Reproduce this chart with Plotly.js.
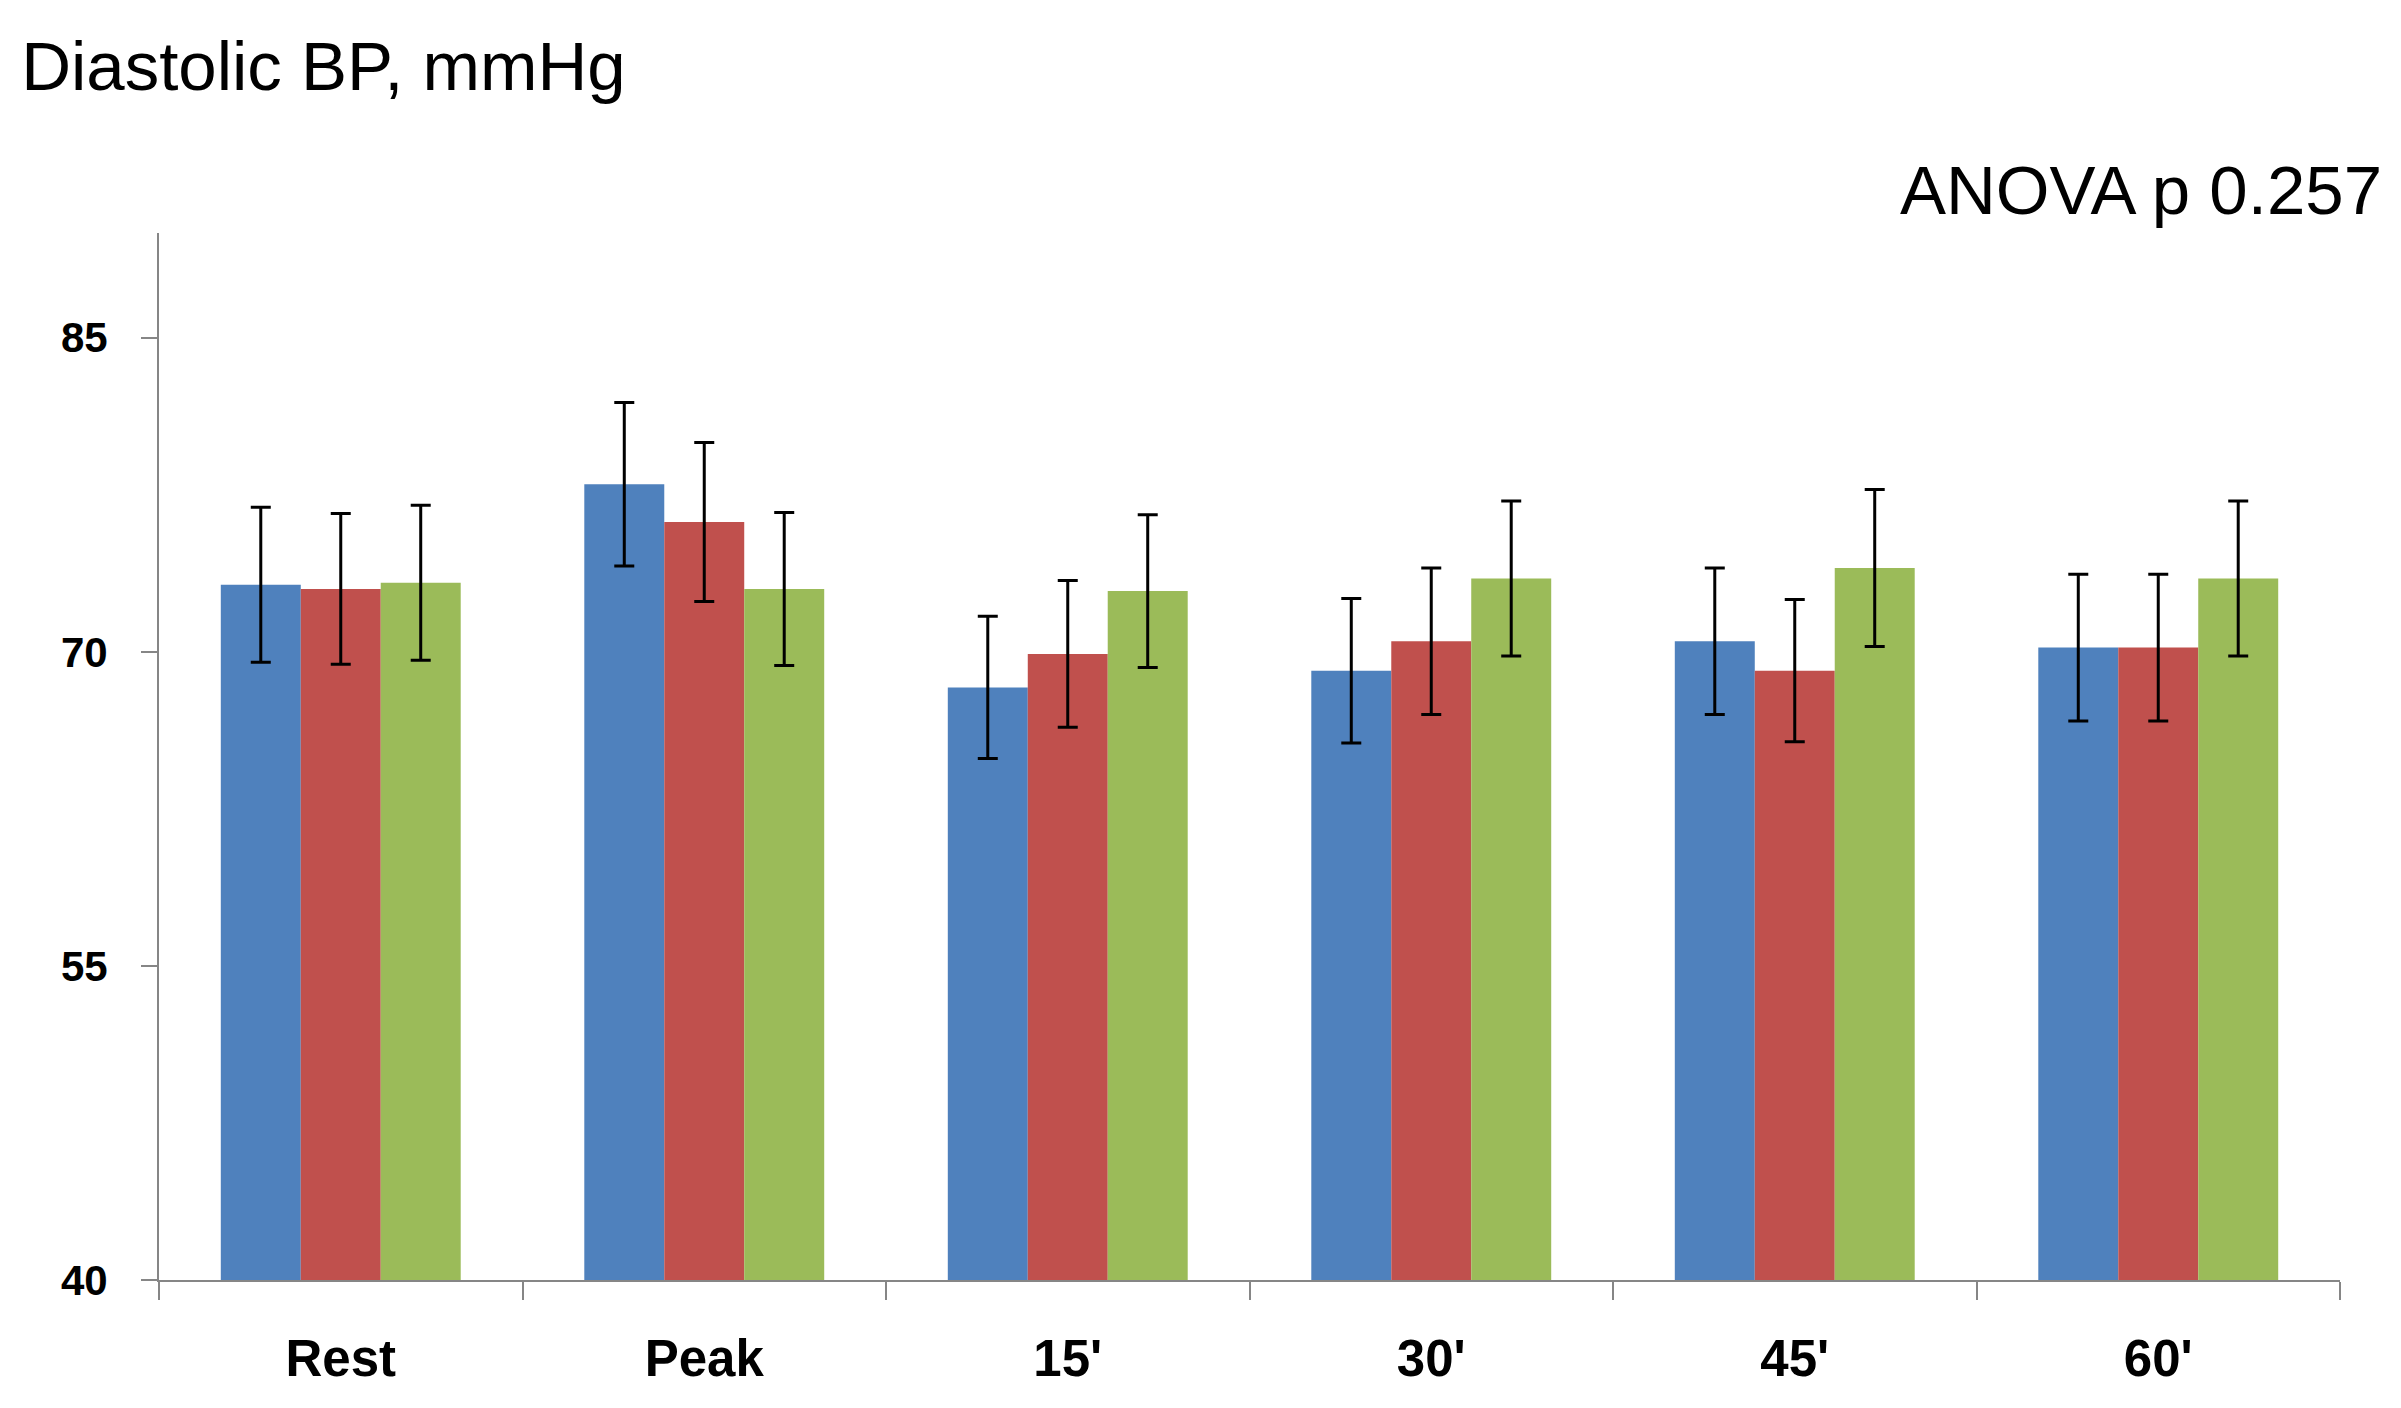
<!DOCTYPE html>
<html>
<head>
<meta charset="utf-8">
<script src="https://cdn.plot.ly/plotly-3.0.1.min.js"></script>
<style>
  html, body { margin: 0; padding: 0; background: white; }
  #chart { width: 2401px; height: 1408px; }
</style>
</head>
<body>
<div id="chart"></div>
<script>
// time points
const categories = ['Rest', 'Peak', "15'", "30'", "45'", "60'"];

// group means (mmHg)
const blueValues = [73.2, 78.0, 68.3, 69.1, 70.5, 70.2];
const redValues = [73.0, 76.2, 69.9, 70.5, 69.1, 70.2];
const greenValues = [73.3, 73.0, 72.9, 73.5, 74.0, 73.5];

// error bar half-lengths
const blueErrors = [3.7, 3.9, 3.4, 3.45, 3.5, 3.5];
const redErrors = [3.6, 3.8, 3.5, 3.5, 3.4, 3.5];
const greenErrors = [3.7, 3.65, 3.65, 3.7, 3.75, 3.7];

const yTicks = [40, 55, 70, 85];

const textFont = 'Liberation Sans, Arial, sans-serif';
const axisGray = '#868686';

function barTrace(name, values, errors, color) {
    return {
        type: 'bar',
        name: name,
        x: categories,
        y: values,
        marker: { color: color, line: { width: 0 } },
        error_y: {
            type: 'data',
            array: errors,
            visible: true,
            color: '#000000',
            thickness: 3,
            width: 10
        },
        hoverinfo: 'x+y'
    };
}

const traces = [
    barTrace('Group 1', blueValues, blueErrors, '#4F81BD'),
    barTrace('Group 2', redValues, redErrors, '#C0504D'),
    barTrace('Group 3', greenValues, greenErrors, '#9BBB59')
];

const layout = {
    width: 2401,
    height: 1408,
    margin: { l: 159, r: 61, t: 233, b: 128, pad: 0 },
    paper_bgcolor: 'white',
    plot_bgcolor: 'white',
    showlegend: false,
    barmode: 'group',
    bargap: 0.34,
    bargroupgap: 0,
    font: { family: textFont, color: '#000000' },
    title: {
        text: 'Diastolic BP, mmHg',
        font: { family: textFont, size: 69, color: '#000000' },
        xref: 'container',
        yref: 'container',
        x: 0.0088,
        xanchor: 'left',
        y: 0.953,
        yanchor: 'middle'
    },
    xaxis: {
        type: 'category',
        showline: true,
        linecolor: axisGray,
        linewidth: 2,
        showgrid: false,
        zeroline: false,
        ticks: 'outside',
        tickson: 'boundaries',
        ticklen: 18,
        tickwidth: 2,
        tickcolor: axisGray,
        tickfont: { family: textFont, size: 51, color: '#000000', weight: 'bold' },
        ticklabelstandoff: 33
    },
    yaxis: {
        range: [40, 90],
        tickmode: 'array',
        tickvals: yTicks,
        ticktext: yTicks.map(String),
        showline: true,
        linecolor: axisGray,
        linewidth: 2,
        showgrid: false,
        zeroline: false,
        ticks: 'outside',
        ticklen: 16,
        tickwidth: 2,
        tickcolor: axisGray,
        tickfont: { family: textFont, size: 42, color: '#000000', weight: 'bold' },
        ticklabelstandoff: 25
    },
    annotations: [
        {
            text: 'ANOVA p 0.257',
            xref: 'paper',
            yref: 'paper',
            x: 1.0202,
            xanchor: 'right',
            y: 1.041,
            yanchor: 'middle',
            showarrow: false,
            font: { family: textFont, size: 69, color: '#000000' }
        }
    ]
};

const config = { displayModeBar: false, responsive: false };

Plotly.newPlot('chart', traces, layout, config);
</script>
</body>
</html>
